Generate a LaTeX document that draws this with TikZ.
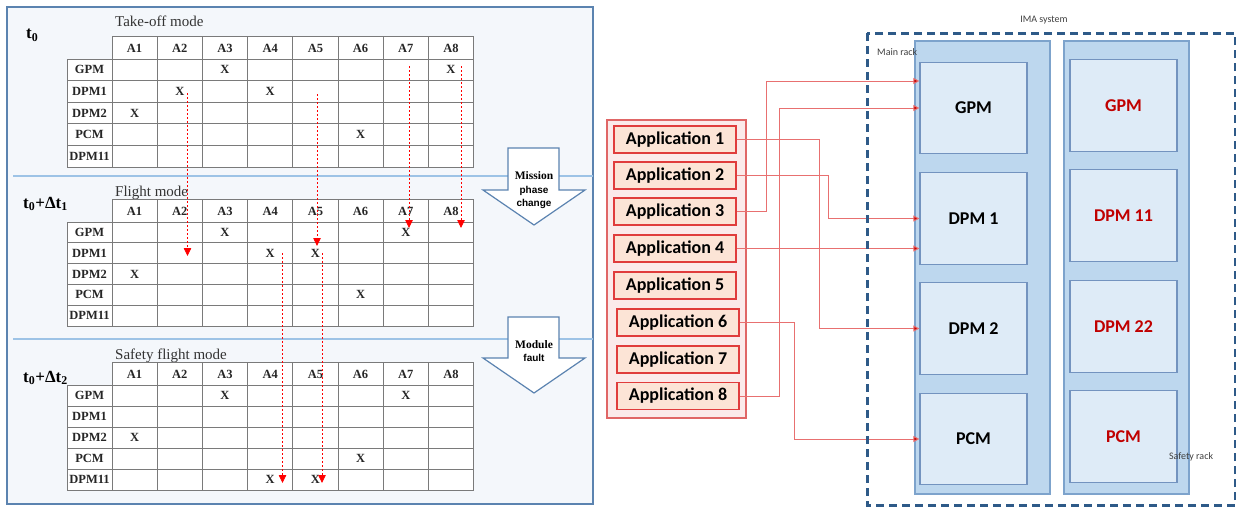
\documentclass[tikz,border=0pt]{standalone}
\usepackage{fontspec}
\setmainfont{Liberation Serif}
\newfontfamily\calfont{Carlito}
\newfontfamily\arialfont{Liberation Sans}
\usetikzlibrary{arrows.meta}
\definecolor{framebl}{HTML}{5B83B0}
\definecolor{panelbg}{HTML}{F4F7FB}
\definecolor{seplin}{HTML}{9DC3E6}
\definecolor{gridgray}{HTML}{7A7A7A}
\definecolor{rackfill}{HTML}{BDD7EE}
\definecolor{rackdraw}{HTML}{7DA3CC}
\definecolor{modfill}{HTML}{DEEBF7}
\definecolor{moddraw}{HTML}{7393BF}
\definecolor{imablue}{HTML}{2E5A88}
\definecolor{appgrpfill}{HTML}{FBEAEA}
\definecolor{appgrpdraw}{HTML}{E06666}
\definecolor{appfill}{HTML}{FCE4D6}
\definecolor{appdraw}{HTML}{E03C3C}
\definecolor{connred}{HTML}{E87070}
\definecolor{tipred}{HTML}{C00000}
\definecolor{safered}{HTML}{C00000}
\definecolor{labgray}{HTML}{404040}
\newcommand{\modetable}[4]{%
 \fill[white] (67,#2+23) rectangle (473.6,#2+23+5*#3);
 \fill[white] (112,#2) rectangle (473.6,#2+23);
 \foreach \r in {0,...,5} \draw[grid] (67,#2+23+\r*#3) -- (473.6,#2+23+\r*#3);
 \draw[grid] (112,#2) -- (473.6,#2);
 \draw[grid] (67,#2+23) -- (67,#2+23+5*#3);
 \foreach \c in {0,...,8} \draw[grid] (112+45.2*\c,#2) -- (112+45.2*\c,#2+23+5*#3);
 \foreach \c in {1,...,8} \node[cell] (#1h\c) at (89.4+45.2*\c,#2+12) {A\c};
 \foreach \n [count=\i] in {GPM,DPM1,DPM2,PCM,DPM11} \node[cell] (#1r\i) at (89.5,#2+23+\i*#3-0.5*#3) {\n};
 \foreach \r/\c in {#4} \node[cell] (#1x\r\c) at (89.4+45.2*\c,#2+23+\r*#3-0.5*#3) {X};
}
\begin{document}
\begin{tikzpicture}[x=1pt,y=-1pt,
  grid/.style={draw=gridgray,line width=1pt},
  cell/.style={font=\bfseries\fontsize{12.5}{14}\selectfont,inner sep=0pt,text=black!85},
  title/.style={font=\fontsize{15}{17}\selectfont,inner sep=0pt,anchor=base west,text=black!80},
  tlabel/.style={font=\bfseries\fontsize{17}{19}\selectfont,inner sep=0pt,anchor=west},
  redarrow/.style={draw=red,dash pattern=on 2pt off 2pt,line width=0.8pt,-{Triangle[width=7.5pt,length=8pt,fill=red]}},
  blockarrow/.style={draw=framebl,fill=white,line width=1.2pt,line join=miter},
  ba1/.style={font=\bfseries\fontsize{11.5}{13}\selectfont,inner sep=0pt},
  ba2/.style={font=\arialfont\bfseries\fontsize{10}{11}\selectfont,inner sep=0pt},
  appgrp/.style={draw=appgrpdraw,fill=appgrpfill,line width=1.2pt,minimum width=139pt,minimum height=298pt,inner sep=0pt},
  appbox/.style={draw=appdraw,fill=appfill,line width=1.2pt,minimum width=122pt,minimum height=27pt,inner sep=0pt,font=\calfont\bfseries\fontsize{18}{20}\selectfont},
  rack/.style={draw=rackdraw,fill=rackfill,line width=1.2pt,minimum height=453pt,inner sep=0pt},
  module/.style={draw=moddraw,fill=modfill,line width=1.2pt,minimum width=107pt,minimum height=91.5pt,inner sep=0pt,font=\calfont\bfseries\fontsize{18}{20}\selectfont},
  smallab/.style={font=\calfont\fontsize{10}{12}\selectfont,text=labgray,inner sep=0pt},
  conn/.style={draw=connred,line width=1pt,-{Triangle[width=6pt,length=6pt,fill=tipred]}}
]
\useasboundingbox (0,0) rectangle (1236,506);
\fill[white] (0,0) rectangle (1236,506);
% ---------- left panel ----------
\draw[fill=panelbg,draw=framebl,line width=1.5pt] (7,7) rectangle (593,504);
\draw[seplin,line width=1.2pt] (13,176) -- (593,176);
\draw[seplin,line width=1.2pt] (13,339) -- (593,339);
\node[title] (ttl1) at (115,27) {Take-off mode};
\node[title] (ttl2) at (115,196) {Flight mode};
\node[title] (ttl3) at (115,359) {Safety flight mode};
\node[tlabel] (tl1) at (26,35) {t\textsubscript{0}};
\node[tlabel] (tl2) at (23,204) {t\textsubscript{0}+Δt\textsubscript{1}};
\node[tlabel] (tl3) at (23,378) {t\textsubscript{0}+Δt\textsubscript{2}};
\modetable{ta}{36}{21.6}{1/3,1/8,2/2,2/4,3/1,4/6}
\modetable{tb}{199}{20.8}{1/3,1/7,2/4,2/5,3/1,4/6}
\modetable{tc}{362}{21}{1/3,1/7,3/1,4/6,5/4,5/5}
% block arrows
\draw[blockarrow] (508,148) -- (559,148) -- (559,190) -- (585,190) -- (534,225) -- (483,190) -- (508,190) -- cycle;
\node[ba1] (bm1) at (534,176) {Mission};
\node[ba2] (bm2) at (534,191) {phase};
\node[ba2] (bm3) at (534,204) {change};
\draw[blockarrow] (508,317) -- (559,317) -- (559,358) -- (585,358) -- (534,393) -- (483,358) -- (508,358) -- cycle;
\node[ba1] (bf1) at (534,345) {Module};
\node[ba2] (bf2) at (534,358) {fault};
% dashed red arrows
\coordinate (d1s) at (187.5,93);  \coordinate (d1e) at (187.5,256);
\coordinate (d2s) at (317,94);    \coordinate (d2e) at (317,246);
\coordinate (d3s) at (409,66);    \coordinate (d3e) at (409,228);
\coordinate (d4s) at (461,66);    \coordinate (d4e) at (461,228);
\coordinate (d5s) at (282.5,253); \coordinate (d5e) at (282.5,483);
\coordinate (d6s) at (322,253);   \coordinate (d6e) at (322,483);
\foreach \k in {1,...,6} \draw[redarrow] (d\k s) -- (d\k e);
% ---------- right panel ----------
\node[appgrp] (apps) at (676.5,269) {};
\node[appbox] (app1) at (675,139.5) {Application 1};
\node[appbox] (app2) at (675,175.5) {Application 2};
\node[appbox] (app3) at (675,211.5) {Application 3};
\node[appbox] (app4) at (675,248.5) {Application 4};
\node[appbox] (app5) at (675,285.5) {Application 5};
\node[appbox] (app6) at (678,322.5) {Application 6};
\node[appbox] (app7) at (678,359.5) {Application 7};
\node[appbox] (app8) at (678,396) {Application 8};
\node[rack,minimum width=135pt] (mainrack) at (982.5,267.5) {};
\node[rack,minimum width=125pt] (saferack) at (1126.5,267.5) {};
\node[module] (m1gpm) at (973.5,108) {GPM};
\node[module] (m1dpm1) at (973.5,218.5) {DPM 1};
\node[module] (m1dpm2) at (973.5,328.5) {DPM 2};
\node[module] (m1pcm) at (973.5,439) {PCM};
\node[module,text=safered] (m2gpm) at (1123.5,105.5) {GPM};
\node[module,text=safered] (m2dpm11) at (1123.5,215.5) {DPM 11};
\node[module,text=safered] (m2dpm22) at (1123.5,326.5) {DPM 22};
\node[module,text=safered] (m2pcm) at (1123.5,436.5) {PCM};
\draw[conn] (app1.east) -- ++(83,0) |- (m1dpm2.west);
\draw[conn] (app2.east) -- ++(92,0) |- (m1dpm1.west);
\draw[conn] (app3.east) -- ++(30,0) |- ([yshift=27pt]m1gpm.west);
\draw[conn] (app4.east) -- (app4.east -| m1dpm1.west);
\draw[conn] (app6.east) -- ++(55,0) |- (m1pcm.west);
\draw[conn] (app8.east) -- ++(40,0) |- (m1gpm.west);
\draw[imablue,line width=3pt,dash pattern=on 8pt off 5pt] (867,33) rectangle (1235,505);
\node[smallab] (imalab) at (1044,20) {IMA system};
\node[smallab,anchor=west] (mainlab) at (877,52) {Main rack};
\node[smallab] (safelab) at (1191,457) {Safety rack};
\end{tikzpicture}
\end{document}
